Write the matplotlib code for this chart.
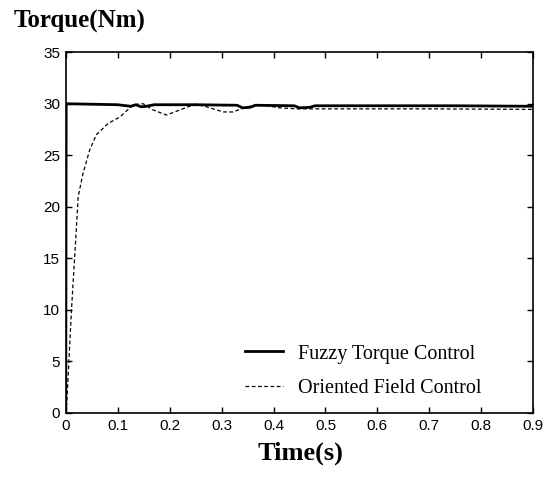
import matplotlib
matplotlib.use("Agg")
import matplotlib.pyplot as plt

# Fuzzy torque control: step to 30 Nm with small ripples
t_fuzzy = [0, 0.0008, 0.05, 0.10, 0.125, 0.135, 0.145, 0.155, 0.17, 0.18, 0.25,
           0.33, 0.34, 0.355, 0.365, 0.44, 0.45, 0.47, 0.48, 0.6, 0.75, 0.9]
torque_fuzzy = [0, 30.0, 29.95, 29.9, 29.75, 29.9, 29.7, 29.75, 29.9, 29.9, 29.9,
                29.85, 29.6, 29.65, 29.85, 29.8, 29.6, 29.65, 29.8, 29.8, 29.8, 29.75]

# Oriented field control: slower rise with damped oscillation
t_ofc = [0, 0.002, 0.006, 0.011, 0.017, 0.024, 0.033, 0.046, 0.059, 0.082, 0.104,
         0.130, 0.149, 0.168, 0.194, 0.220, 0.249, 0.271, 0.303, 0.322, 0.348,
         0.374, 0.412, 0.445, 0.55, 0.7, 0.9]
torque_ofc = [0, 1.0, 5.0, 10.0, 15.0, 21.0, 23.2, 25.5, 27.0, 28.1, 28.7,
              29.9, 30.0, 29.4, 28.9, 29.4, 29.95, 29.7, 29.2, 29.2, 29.7,
              29.9, 29.6, 29.5, 29.5, 29.5, 29.45]

xticks = [0, 0.1, 0.2, 0.3, 0.4, 0.5, 0.6, 0.7, 0.8, 0.9]
xticklabels = ["0", "0.1", "0.2", "0.3", "0.4", "0.5", "0.6", "0.7", "0.8", "0.9"]
yticks = [0, 5, 10, 15, 20, 25, 30, 35]

fig = plt.figure(figsize=(5.48, 4.83), dpi=100)
ax = fig.add_axes([0.120, 0.145, 0.853, 0.747])

ax.plot(t_fuzzy, torque_fuzzy, color="black", lw=2.0, label="Fuzzy Torque Control")
ax.plot(t_ofc, torque_ofc, color="black", lw=0.9, ls=(0, (3, 2)), label="Oriented Field Control")

ax.set_xlim(0, 0.9)
ax.set_ylim(0, 35)
ax.set_xticks(xticks)
ax.set_xticklabels(xticklabels)
ax.set_yticks(yticks)
ax.tick_params(direction="in", top=True, right=True, length=4, width=1,
               labelsize=11, pad=4)
for lab in ax.get_xticklabels() + ax.get_yticklabels():
    lab.set_family("Liberation Sans")
for sp in ax.spines.values():
    sp.set_linewidth(1.2)

leg = ax.legend(loc="upper left", bbox_to_anchor=(0.383, 0.19), frameon=False,
                prop={"family": "Liberation Serif", "size": 14.5},
                borderpad=0, borderaxespad=0,
                handlelength=1.9, labelspacing=0.75, handletextpad=0.75)

fig.text(0.024, 0.955, "Torque(Nm)", family="Liberation Serif", weight="bold",
         fontsize=18, va="center", ha="left")
fig.text(0.548, 0.0625, "Time(s)", family="Liberation Serif", weight="bold",
         fontsize=19, va="center", ha="center")

fig.savefig("out.png", dpi=100)
